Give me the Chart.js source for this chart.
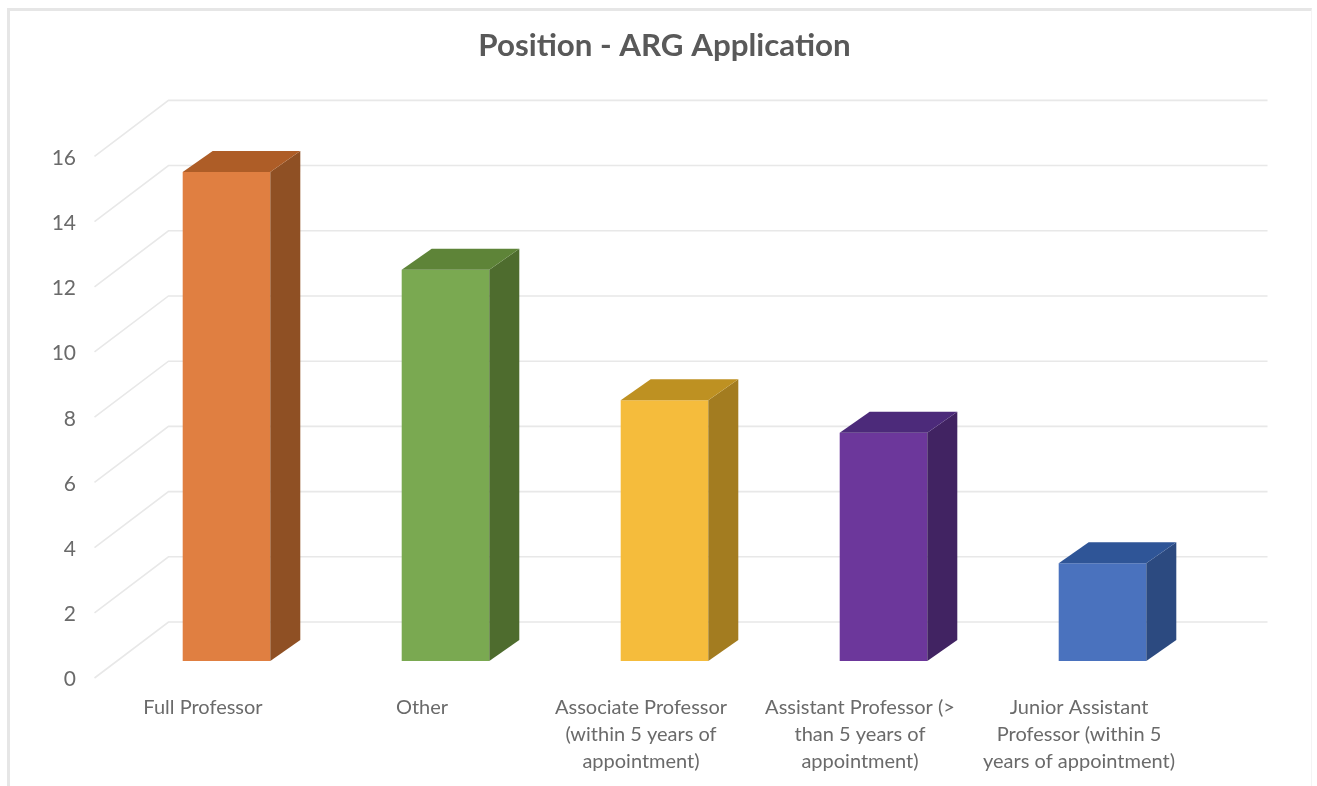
<!DOCTYPE html>
<html>
<head>
<meta charset="utf-8">
<script src="https://cdn.jsdelivr.net/npm/chart.js@4"></script>
<style>
html,body{margin:0;padding:0;background:#fff;overflow:hidden}
#box{position:relative;width:1317px;height:786px}
#frame{position:absolute;left:7px;top:8px;width:1305px;height:790px;border-left:3px solid #e6e6e6;border-top:3px solid #e6e6e6;border-right:1px solid #f4f4f4;box-sizing:border-box}
canvas{position:absolute;left:0;top:0}
</style>
</head>
<body>
<div id="box"><div id="frame"></div><canvas id="c" width="1317" height="786"></canvas></div>
<script>
const titleText = "Position - ARG Application";
const categories = [
  ["Full Professor"],
  ["Other"],
  ["Associate Professor", "(within 5 years of", "appointment)"],
  ["Assistant Professor (>", "than 5 years of", "appointment)"],
  ["Junior Assistant", "Professor (within 5", "years of appointment)"]
];
const values = [15, 12, 8, 7, 3];
const frontColors = ["#E07F41", "#7AA951", "#F5BC3C", "#6C379B", "#4A72BE"];
const topColors   = ["#AE5D27", "#5E8438", "#BE9122", "#4C2A7A", "#2F5597"];
const sideColors  = ["#8F5024", "#4E6C2E", "#A37C20", "#412362", "#2C4A80"];

const FONT = "Lato, Carlito, sans-serif";
const GRID = "#e8e8e8";
const wallDX = 51.5, wallDY = -39;      // back wall relative to bar front plane
const floorDX = -22.5, floorDY = 17;    // front edge of floor relative to bar front plane
const barDX = 30, barDY = -21;          // bar depth

const threeD = {
  id: "threeD",
  beforeDatasetsDraw(chart) {
    const {ctx, scales: {y}, chartArea: a} = chart;
    ctx.save();
    ctx.strokeStyle = GRID;
    ctx.lineWidth = 1.6;
    y.ticks.forEach(t => {
      const py = y.getPixelForValue(t.value);
      ctx.beginPath();
      ctx.moveTo(a.left + floorDX, py + floorDY);
      ctx.lineTo(a.left + wallDX, py + wallDY);
      ctx.lineTo(a.right + wallDX + 4, py + wallDY);
      ctx.stroke();
    });
    ctx.restore();
  },
  afterDatasetsDraw(chart) {
    const {ctx} = chart;
    const meta = chart.getDatasetMeta(0);
    ctx.save();
    meta.data.forEach((b, i) => {
      const l = b.x - b.width / 2, r = b.x + b.width / 2, t = b.y, bt = b.base;
      ctx.fillStyle = sideColors[i];
      ctx.beginPath();
      ctx.moveTo(r, t); ctx.lineTo(r + barDX, t + barDY);
      ctx.lineTo(r + barDX, bt + barDY); ctx.lineTo(r, bt);
      ctx.closePath(); ctx.fill();
      ctx.fillStyle = topColors[i];
      ctx.beginPath();
      ctx.moveTo(l, t); ctx.lineTo(l + barDX, t + barDY);
      ctx.lineTo(r + barDX, t + barDY); ctx.lineTo(r, t);
      ctx.closePath(); ctx.fill();
    });
    ctx.restore();
  }
};

new Chart(document.getElementById("c"), {
  type: "bar",
  data: {
    labels: categories,
    datasets: [{
      data: values,
      backgroundColor: frontColors,
      borderWidth: 0,
      barPercentage: 0.4,
      categoryPercentage: 1
    }]
  },
  plugins: [threeD],
  options: {
    responsive: false,
    animation: false,
    layout: {padding: {left: 0, right: 105, top: 0, bottom: 0}},
    plugins: {
      legend: {display: false},
      tooltip: {enabled: false},
      title: {
        display: true,
        fullSize: false,
        text: titleText,
        color: "#595959",
        font: {family: FONT, size: 31.3, weight: "bold", lineHeight: 1.2},
        padding: {top: 27.6, bottom: 74.2}
      }
    },
    scales: {
      x: {
        grid: {display: false, drawTicks: false},
        border: {display: false},
        afterFit(s) { s.height = 125; },
        ticks: {
          color: "#6a6a6a",
          font: {family: FONT, size: 20, lineHeight: 1.35},
          padding: 33,
          labelOffset: -23.5,
          maxRotation: 0,
          minRotation: 0,
          autoSkip: false
        }
      },
      y: {
        min: 0,
        max: 16,
        grid: {display: false, drawTicks: false},
        border: {display: false},
        afterFit(s) { s.width = 117; },
        ticks: {
          stepSize: 2,
          color: "#6a6a6a",
          font: {family: FONT, size: 21},
          padding: 41,
          labelOffset: 18.7
        }
      }
    }
  }
});
</script>
</body>
</html>
